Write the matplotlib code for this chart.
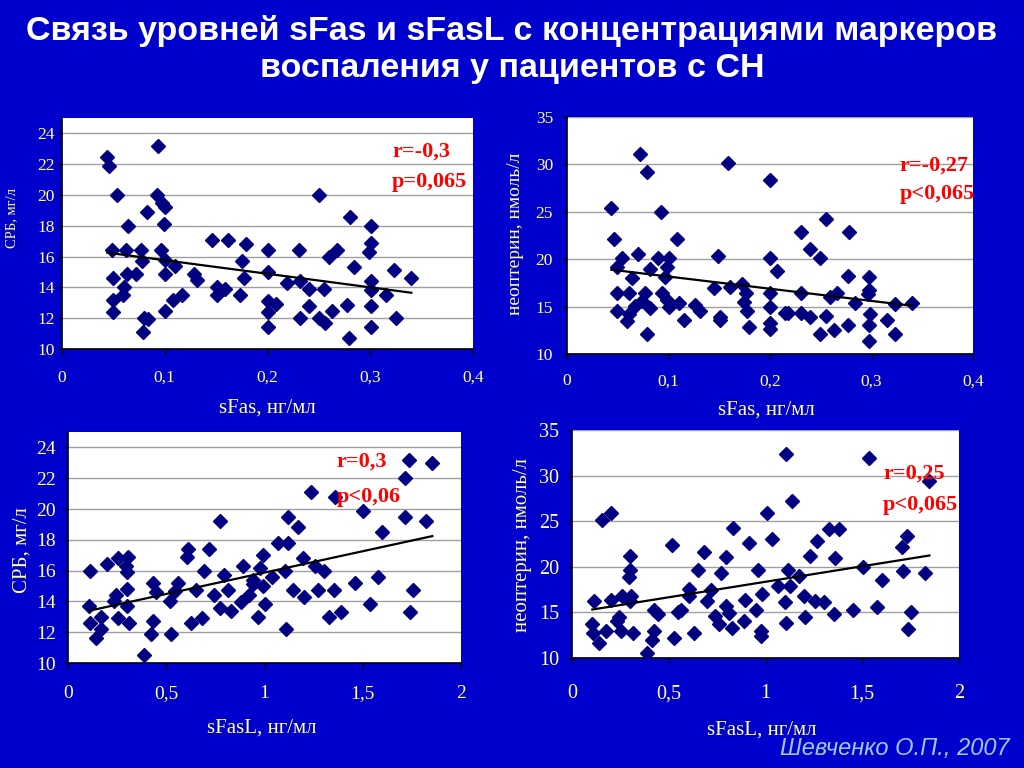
import numpy as np
import matplotlib.pyplot as plt
from matplotlib.ticker import FuncFormatter

# sFas vs CRP (top left)
sfas_1 = [0.044, 0.046, 0.0935, 0.054, 0.0925, 0.097, 0.100, 0.083, 0.064, 0.099,
          0.049, 0.062, 0.077, 0.096, 0.078, 0.100, 0.110, 0.050, 0.063, 0.072,
          0.100, 0.128, 0.131, 0.060, 0.059, 0.050, 0.050, 0.080, 0.084, 0.079,
          0.100, 0.108, 0.117, 0.146, 0.162, 0.179, 0.175, 0.177, 0.151, 0.159,
          0.151, 0.173, 0.200, 0.200, 0.200, 0.200, 0.200, 0.208, 0.231, 0.219,
          0.232, 0.240, 0.255, 0.240, 0.232, 0.250, 0.250, 0.256, 0.260, 0.2675,
          0.263, 0.284, 0.280, 0.2776, 0.279, 0.301, 0.301, 0.299, 0.301, 0.301,
          0.301, 0.301, 0.315, 0.323, 0.325, 0.340]
crp_1 = [22.5, 21.9, 23.2, 20.0, 20.0, 19.5, 19.2, 18.9, 18.0, 18.1,
         16.4, 16.4, 16.4, 16.4, 15.7, 15.8, 15.4, 14.6, 14.9, 14.9,
         14.9, 14.9, 14.5, 14.0, 13.5, 13.2, 12.4, 12.0, 11.95, 11.1,
         12.5, 13.2, 13.5, 17.1, 17.1, 16.8, 15.7, 14.6, 14.0, 13.9,
         13.5, 13.5, 16.4, 15.0, 13.1, 12.4, 11.4, 12.9, 16.4, 14.3,
         14.4, 13.9, 13.9, 12.8, 12.0, 20.0, 12.0, 11.7, 16.0, 16.4,
         12.5, 15.35, 18.6, 12.85, 10.7, 18.0, 16.9, 16.3, 14.4, 13.8,
         12.8, 11.4, 13.5, 15.1, 12.0, 14.6]

# sFas vs neopterin (top right)
sfas_2 = [0.0716, 0.079, 0.159, 0.200, 0.0437, 0.093, 0.046, 0.108, 0.054, 0.070,
          0.090, 0.100, 0.0985, 0.049, 0.149, 0.200, 0.082, 0.064, 0.097, 0.049,
          0.061, 0.077, 0.094, 0.0985, 0.110, 0.074, 0.082, 0.049, 0.061, 0.059,
          0.067, 0.100, 0.079, 0.115, 0.126, 0.131, 0.1445, 0.161, 0.172, 0.176,
          0.174, 0.177, 0.151, 0.151, 0.179, 0.200, 0.200, 0.200, 0.200, 0.207,
          0.215, 0.218, 0.2305, 0.231, 0.239, 0.231, 0.255, 0.278, 0.239, 0.249,
          0.259, 0.2665, 0.255, 0.249, 0.263, 0.277, 0.277, 0.284, 0.298, 0.298,
          0.297, 0.299, 0.298, 0.298, 0.315, 0.323, 0.323, 0.3403]
neo_2 = [31.1, 29.2, 30.1, 28.4, 25.4, 25.0, 22.1, 22.1, 20.1, 20.5,
         20.1, 20.1, 19.2, 19.2, 20.3, 20.1, 19.0, 18.0, 18.1, 16.4,
         16.4, 16.4, 16.4, 15.7, 15.4, 15.6, 14.8, 14.5, 14.2, 13.5,
         15.1, 15.0, 12.1, 13.6, 15.2, 14.5, 17.0, 17.1, 17.4, 16.4,
         15.5, 14.5, 13.9, 13.6, 12.9, 16.4, 15.0, 13.3, 12.6, 18.8,
         14.3, 14.3, 16.4, 14.3, 13.9, 22.9, 24.2, 22.9, 21.1, 20.1,
         16.0, 16.4, 14.0, 12.1, 12.5, 13.05, 18.2, 15.4, 18.1, 16.7,
         16.3, 14.2, 13.05, 11.4, 13.6, 15.3, 12.1, 15.4]

# sFasL vs CRP (bottom left)
sfasl_3 = [0.114, 0.199, 0.253, 0.304, 0.295, 0.300, 0.300, 0.245, 0.236, 0.109,
           0.300, 0.114, 0.168, 0.168, 0.143, 0.253, 0.312, 0.431, 0.448, 0.431,
           0.423, 0.385, 0.521, 0.559, 0.545, 0.525, 0.610, 0.606, 0.649, 0.627,
           0.681, 0.716, 0.694, 0.771, 0.742, 0.771, 0.796, 0.813, 0.830, 0.890,
           0.878, 0.923, 0.940, 0.966, 0.992, 0.976, 0.993, 1.000, 1.036, 1.070,
           1.121, 1.121, 1.171, 1.236, 1.197, 1.103, 1.257, 1.304, 1.146, 1.202,
           1.273, 1.355, 1.107, 1.327, 1.389, 1.358, 1.503, 1.460, 1.576, 1.536,
           1.599, 1.715, 1.820, 1.715, 1.735, 1.854, 1.757, 1.740, 0.940]
crp_3 = [16.0, 16.4, 16.8, 16.9, 16.3, 15.9, 14.8, 14.4, 14.0, 13.7,
         13.7, 12.6, 13.0, 12.2, 11.6, 12.9, 12.6, 15.2, 14.6, 12.7,
         11.9, 10.5, 14.0, 15.2, 14.7, 11.9, 17.4, 16.9, 14.75, 12.6,
         12.9, 17.4, 16.0, 19.2, 14.4, 13.6, 15.7, 14.75, 13.4, 16.3,
         13.95, 14.4, 15.1, 13.0, 17.0, 16.2, 15.0, 13.8, 15.6, 17.8,
         17.8, 19.5, 18.8, 21.1, 16.8, 16.0, 16.3, 16.0, 14.75, 14.3,
         14.75, 14.75, 12.2, 13.0, 13.3, 20.8, 19.85, 15.2, 15.6, 13.8,
         18.5, 19.5, 19.2, 22.0, 23.2, 23.0, 14.75, 13.3, 15.4]

# sFasL vs neopterin (bottom right)
sfasl_4 = [0.153, 0.200, 0.114, 0.200, 0.260, 0.303, 0.298, 0.298, 0.295, 0.298,
           0.105, 0.243, 0.234, 0.108, 0.174, 0.139, 0.251, 0.315, 0.424, 0.446,
           0.424, 0.415, 0.389, 0.519, 0.550, 0.562, 0.527, 0.630, 0.605, 0.605,
           0.653, 0.682, 0.700, 0.717, 0.768, 0.794, 0.739, 0.760, 0.794, 0.811,
           0.829, 0.889, 0.894, 0.949, 0.963, 0.915, 0.832, 0.975, 0.975, 0.984,
           1.010, 1.106, 1.537, 1.847, 1.137, 1.034, 1.326, 1.378, 1.266, 1.231,
           1.357, 1.731, 1.705, 1.710, 1.823, 1.502, 1.602, 1.116, 1.171, 1.128,
           1.064, 1.102, 1.197, 1.257, 1.300, 1.352, 1.452, 1.576, 1.106, 1.202,
           1.753, 1.736]
neo_4 = [25.1, 25.9, 16.2, 16.4, 16.8, 16.8, 21.2, 19.7, 18.9, 16.2,
         13.75, 14.5, 14.05, 12.7, 13.0, 11.6, 13.0, 12.7, 15.3, 14.8,
         13.0, 12.0, 10.6, 22.4, 15.0, 15.3, 12.2, 12.7, 17.6, 16.8,
         19.7, 21.6, 16.2, 17.5, 19.3, 21.1, 14.6, 13.7, 15.7, 14.9,
         13.3, 14.1, 16.4, 15.3, 19.7, 22.6, 24.3, 13.0, 12.4, 17.0,
         25.9, 32.4, 31.9, 29.4, 27.2, 23.0, 24.1, 24.1, 22.8, 21.2,
         21.0, 23.4, 22.2, 19.5, 19.3, 20.0, 18.5, 19.6, 19.0, 17.9,
         17.9, 16.1, 16.8, 16.2, 16.1, 14.85, 15.3, 15.6, 13.8, 14.5,
         15.0, 13.2]

stats_text = [('r=-0,3', 'p=0,065'), ('r=-0,27', 'p<0,065'),
              ('r=0,3', 'p<0,06'), ('r=0,25', 'p<0,065')]

bg = '#0000CC'
yellow = '#FFFF99'
navy = '#000080'
serif = 'Liberation Serif'

fig = plt.figure(figsize=(10.24, 7.68), dpi=100, facecolor=bg)

panels = [
    dict(rect=[62 / 1024, 419 / 768, 411 / 1024, 231 / 768], x=sfas_1, y=crp_1,
         xmax=0.4, xstep=0.1, ymax=25, ytop=24, ystep=2,
         xlabel='sFas, нг/мл', ylabel='СРБ, мг/л', ylsize=10.5, xlpos=(0.499, -0.255), ylpos=(-0.122, 0.567),
         tsize=12.5, xpad=11, ypad=2, txt=(0.803, 0.853, 0.723)),
    dict(rect=[567 / 1024, 414 / 768, 406 / 1024, 237 / 768], x=sfas_2, y=neo_2,
         xmax=0.4, xstep=0.1, ymax=35, ytop=35, ystep=5,
         xlabel='sFas, нг/мл', ylabel='неоптерин, нмоль/л', ylsize=14, xlpos=(0.49, -0.236), ylpos=(-0.126, 0.506),
         tsize=12.5, xpad=10, ypad=7, txt=(0.82, 0.797, 0.675)),
    dict(rect=[68 / 1024, 105 / 768, 393 / 1024, 231 / 768], x=sfasl_3, y=crp_3,
         xmax=2, xstep=0.5, ymax=25, ytop=24, ystep=2,
         xlabel='sFasL, нг/мл', ylabel='СРБ, мг/л', ylsize=15, xlpos=(0.494, -0.281), ylpos=(-0.117, 0.489),
         tsize=14, xpad=12, ypad=6, txt=(0.684, 0.870, 0.719)),
    dict(rect=[572 / 1024, 110 / 768, 387 / 1024, 228 / 768], x=sfasl_4, y=neo_4,
         xmax=2, xstep=0.5, ymax=35, ytop=35, ystep=5,
         xlabel='sFasL, нг/мл', ylabel='неоптерин, нмоль/л', ylsize=15, xlpos=(0.49, -0.316), ylpos=(-0.129, 0.496),
         tsize=14.5, xpad=15, ypad=6, txt=(0.804, 0.807, 0.671)),
]

comma = FuncFormatter(lambda v, pos: f'{v:g}'.replace('.', ','))

for i, pnl in enumerate(panels):
    ax = fig.add_axes(pnl['rect'])
    ax.set_facecolor('white')
    x = np.array(pnl['x'])
    y = np.array(pnl['y'])

    ax.plot(x, y, linestyle='none', marker='D', markersize=7.6, color=navy, zorder=3)

    # linear trend line, like Excel's
    k, b = np.polyfit(x, y, 1)
    xt = np.array([x.min(), x.max()])
    ax.plot(xt, k * xt + b, color='black', linewidth=1.6, zorder=4)

    ax.set_xlim(0, pnl['xmax'])
    ax.set_ylim(10, pnl['ymax'])
    ax.set_xticks(np.arange(0, pnl['xmax'] + 1e-9, pnl['xstep']))
    ax.set_yticks(np.arange(10, pnl['ytop'] + 1e-9, pnl['ystep']))
    ax.xaxis.set_major_formatter(comma)
    ax.yaxis.set_major_formatter(comma)
    ax.grid(axis='y', color='#A0A0A0', linewidth=1.0, zorder=1)
    ax.set_axisbelow(True)

    for s in ['top', 'right']:
        ax.spines[s].set_visible(False)
    for s in ['left', 'bottom']:
        ax.spines[s].set_color('black')
        ax.spines[s].set_linewidth(1.2)

    ax.tick_params(axis='x', direction='out', length=4, width=1, color='black',
                   pad=pnl['xpad'], labelcolor=yellow, labelsize=pnl['tsize'])
    ax.tick_params(axis='y', direction='out', length=3, width=1, color='black',
                   pad=pnl['ypad'], labelcolor=yellow, labelsize=pnl['tsize'])
    for lbl in ax.get_xticklabels() + ax.get_yticklabels():
        lbl.set_family(serif)

    ax.text(pnl['xlpos'][0], pnl['xlpos'][1], pnl['xlabel'], transform=ax.transAxes,
            ha='center', va='center', color=yellow, fontsize=15, family=serif)
    ax.text(pnl['ylpos'][0], pnl['ylpos'][1], pnl['ylabel'], transform=ax.transAxes,
            ha='center', va='center', rotation=90, color=yellow, fontsize=pnl['ylsize'], family=serif)

    tx, ty1, ty2 = pnl['txt']
    r_txt, p_txt = stats_text[i]
    ax.text(tx, ty1, r_txt, transform=ax.transAxes, ha='left', va='center', color='red',
            fontsize=16, fontweight='bold', family=serif, zorder=5)
    ax.text(tx, ty2, p_txt, transform=ax.transAxes, ha='left', va='center', color='red',
            fontsize=16, fontweight='bold', family=serif, zorder=5)

fig.text(0.5, 1 - 31 / 768, 'Связь уровней sFas и sFasL с концентрациями маркеров',
         ha='center', va='center', color='white', fontsize=24.5, fontweight='bold', family='Liberation Sans')
fig.text(0.5, 1 - 69 / 768, 'воспаления у пациентов с СН',
         ha='center', va='center', color='white', fontsize=24.5, fontweight='bold', family='Liberation Sans')
fig.text(1 - 14 / 1024, 1 - 748 / 768, 'Шевченко О.П., 2007', ha='right', va='center',
         color='#9CC8F5', fontsize=17, fontstyle='italic', family='Liberation Sans')

plt.savefig('out.png', dpi=100, facecolor=bg)
